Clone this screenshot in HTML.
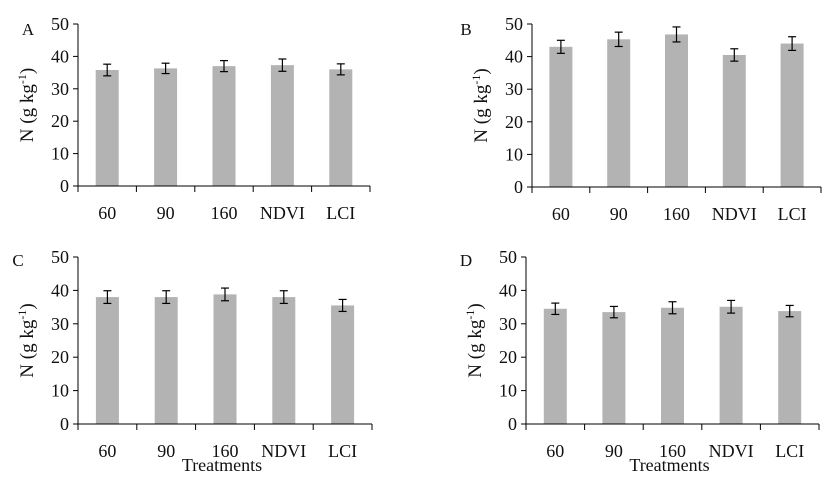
<!DOCTYPE html>
<html><head><meta charset="utf-8"><style>
html,body{margin:0;padding:0;background:#fff}
svg{display:block}
text{font-family:"Liberation Serif",serif;fill:#111}
</style></head><body>
<svg id="chart" width="830" height="480"></svg>
<script>
const categories = ["60","90","160","NDVI","LCI"];
const yTicks = [0,10,20,30,40,50];
const panelLabels = ["A","B","C","D"];
const valuesA = [35.8,36.3,37.0,37.3,36.0];
const errorsA = [1.8,1.6,1.7,1.9,1.7];
const valuesB = [43.0,45.3,46.8,40.5,44.0];
const errorsB = [2.0,2.2,2.3,1.9,2.1];
const valuesC = [38.0,38.0,38.8,38.0,35.5];
const errorsC = [1.9,1.9,1.9,1.9,1.8];
const valuesD = [34.5,33.5,34.8,35.1,33.8];
const errorsD = [1.7,1.7,1.8,1.9,1.7];
const yMax = 50;

const NS="http://www.w3.org/2000/svg";
const svg=document.getElementById('chart');
function mk(tag,attrs,parent){const e=document.createElementNS(NS,tag);for(const k in attrs)e.setAttribute(k,attrs[k]);(parent||svg).appendChild(e);return e;}

const panels=[
 {x0:78,x1:370,yT:24,yB:186,lx:28,ly:35,vals:valuesA,errs:errorsA,treat:false},
 {x0:532,x1:821,yT:24,yB:187,lx:466,ly:35,vals:valuesB,errs:errorsB,treat:false},
 {x0:78,x1:372,yT:257,yB:424,lx:18,ly:266,vals:valuesC,errs:errorsC,treat:true},
 {x0:526,x1:819,yT:257,yB:424,lx:466,ly:266,vals:valuesD,errs:errorsD,treat:true}
];
panels.forEach((p,pi)=>{
 const g=mk('g',{});
 
 
 const y=v=>p.yB-(v/yMax)*(p.yB-p.yT);
 const bw=(p.x1-p.x0)/categories.length;
 const cx=i=>p.x0+bw*(i+0.5);
 const lab=mk('text',{x:p.lx,y:p.ly,'font-size':17,'text-anchor':'middle'},g);
 lab.textContent=panelLabels[pi];
 
 
 p.vals.forEach((v,i)=>{
  const r=mk('rect',{x:cx(i)-11.5,y:y(v),width:23,height:p.yB-y(v),fill:'#b3b3b3'},g);
  
  
  const e=p.errs[i];
  const eg=mk('g',{stroke:'#000','stroke-width':1.2},g);
  
  
  mk('line',{x1:cx(i),x2:cx(i),y1:y(v+e),y2:y(v-e)},eg);
  mk('line',{x1:cx(i)-4,x2:cx(i)+4,y1:y(v+e),y2:y(v+e)},eg);
  mk('line',{x1:cx(i)-4,x2:cx(i)+4,y1:y(v-e),y2:y(v-e)},eg);
 });
 const ax=mk('g',{stroke:'#000','stroke-width':1},g);
 
 
 mk('line',{x1:p.x0,x2:p.x0,y1:p.yT,y2:p.yB},ax);
 mk('line',{x1:p.x0-5,x2:p.x1,y1:p.yB,y2:p.yB},ax);
 yTicks.forEach(t=>{mk('line',{x1:p.x0-5,x2:p.x0,y1:y(t),y2:y(t)},ax);});
 for(let i=0;i<=categories.length;i++){mk('line',{x1:p.x0+bw*i,x2:p.x0+bw*i,y1:p.yB,y2:p.yB+6},ax);}
 yTicks.forEach(t=>{
  const tx=mk('text',{x:p.x0-9,y:y(t)+6,'font-size':18,'text-anchor':'end'},g);
  tx.textContent=t;
  
  
 });
 categories.forEach((c,i)=>{
  const tx=mk('text',{x:cx(i),y:p.yB+33,'font-size':18,'text-anchor':'middle'},g);
  tx.textContent=c;
  
  
 });
 const ty=(p.yT+p.yB)/2;
 const yt=mk('text',{x:0,y:0,'font-size':19,'text-anchor':'middle',transform:`translate(${p.x0-45},${ty}) rotate(-90)`},g);
 yt.innerHTML='N (g kg<tspan dy="-7" font-size="12">-1</tspan><tspan dy="7">)</tspan>';
 
 
 if(p.treat){
  const tt=mk('text',{x:(p.x0+p.x1)/2-3,y:p.yB+47,'font-size':18,'text-anchor':'middle'},g);
  tt.textContent='Treatments';
  
  
 }
});
</script>
</body></html>
